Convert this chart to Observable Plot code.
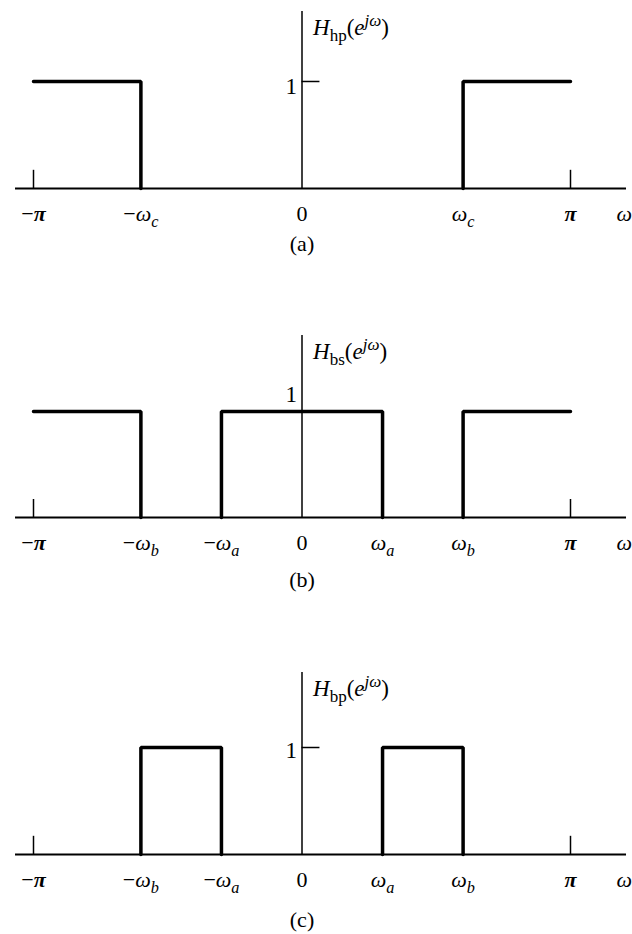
<!DOCTYPE html>
<html><head><meta charset="utf-8">
<script src="https://cdn.jsdelivr.net/npm/d3@7"></script>
<script src="https://cdn.jsdelivr.net/npm/@observablehq/plot@0.6"></script>
<style>
html,body{margin:0;padding:0;background:#fff;}
#chart{width:632px;}
#chart svg{display:block;}
</style></head><body><div id="chart"></div>
<script>
const PI = Math.PI;
// cutoff frequencies
const wc = 0.6 * PI, wa = 0.3 * PI, wb = 0.6 * PI;

// (a) high-pass response (NaN breaks the line)
const hpOmega = [-PI, -wc, -wc, NaN, wc, wc, PI];
const hpMag   = [1, 1, 0, NaN, 0, 1, 1];
// (b) band-stop response
const bsOmega = [-PI, -wb, -wb, NaN, -wa, -wa, wa, wa, NaN, wb, wb, PI];
const bsMag   = [1, 1, 0, NaN, 0, 1, 1, 0, NaN, 0, 1, 1];
// (c) band-pass response
const bpOmega = [-wb, -wb, -wa, -wa, NaN, wa, wa, wb, wb];
const bpMag   = [0, 1, 1, 0, NaN, 0, 1, 1, 0];

// tick labels (markup: *italic*, #bold#, _{sub}, ^{sup})
const ticksA  = [-PI, -wc, 0, wc, PI, 3.77];
const labelsA = ["−#*π*#", "−*ω*_{*c*}", "0", "*ω*_{*c*}", "#*π*#", "*ω*"];
const ticksBC  = [-PI, -wb, -wa, 0, wa, wb, PI, 3.77];
const labelsB = ["−#*π*#", "−*ω*_{*b*}", "−*ω*_{*a*}", "0", "*ω*_{*a*}", "*ω*_{*b*}", "#*π*#", "*ω*"];
const labelsC = labelsB;

const titles   = ["*H*_{hp}(*e*^{*jω*})", "*H*_{bs}(*e*^{*jω*})", "*H*_{bp}(*e*^{*jω*})"];
const captions = ["(a)", "(b)", "(c)"];
const axisExtent = [-3.352, 3.797];

const panels = [
  {omega: hpOmega, mag: hpMag, ticks: ticksA, labels: labelsA, height: 300, top: 11, bottom: 112, ymax: 1.654, oneTick: true, oneDy: 5, capDy: 55},
  {omega: bsOmega, mag: bsMag, ticks: ticksBC, labels: labelsB, height: 320, top: 35, bottom: 103, ymax: 1.717, oneTick: false, oneDy: -17, capDy: 62},
  {omega: bpOmega, mag: bpMag, ticks: ticksBC, labels: labelsC, height: 314, top: 52, bottom: 80, ymax: 1.701, oneTick: true, oneDy: 3, capDy: 65}
];

const SVGNS = "http://www.w3.org/2000/svg";
function rich(el, src) {
  const segs = [];
  let cur = "", italic = false, bold = false, level = 0, ci = false, cb = false, cl = 0;
  const push = () => { if (cur) segs.push({t: cur, it: ci, b: cb, lv: cl}); cur = ""; };
  for (let i = 0; i < src.length; i++) {
    const c = src[i];
    if (c === "*") { push(); italic = !italic; continue; }
    if (c === "#") { push(); bold = !bold; continue; }
    if ((c === "_" || c === "^") && src[i + 1] === "{") { push(); level = c === "_" ? -1 : 1; i++; continue; }
    if (c === "}") { push(); level = 0; continue; }
    if (cur === "") { ci = italic; cb = bold; cl = level; }
    cur += c;
  }
  push();
  el.textContent = "";
  let shift = 0;
  for (const s of segs) {
    const ts = document.createElementNS(SVGNS, "tspan");
    const target = s.lv === -1 ? 6 : s.lv === 1 ? -9 : 0;
    if (target !== shift) ts.setAttribute("dy", target - shift);
    shift = target;
    if (s.lv) ts.setAttribute("font-size", "74%");
    ts.setAttribute("font-style", s.it ? "italic" : "normal");
    if (s.b) ts.setAttribute("font-weight", "bold");
    ts.textContent = s.t;
    el.appendChild(ts);
  }
}

const chart = document.getElementById("chart");
panels.forEach((p, k) => {
  const pts = p.omega.map((x, i) => ({x, y: p.mag[i]}));
  const svg = Plot.plot({
    width: 632, height: p.height,
    marginLeft: 33, marginRight: 62, marginTop: p.top, marginBottom: p.bottom,
    x: {domain: [-PI, PI], axis: null},
    y: {domain: [0, p.ymax], axis: null},
    style: {fontFamily: "'Liberation Serif', 'DejaVu Serif', serif", background: "white", color: "black"},
    marks: [
      Plot.ruleY([0], {x1: axisExtent[0], x2: axisExtent[1], strokeWidth: 2, stroke: "black"}),
      Plot.ruleX([0], {y1: 0, y2: p.ymax, strokeWidth: 1.5, stroke: "black"}),
      Plot.ruleX([-PI, PI], {y1: 0, y2: 0.17, strokeWidth: 1.5, stroke: "black"}),
      p.oneTick ? Plot.ruleY([1], {x1: 0, x2: 0.21, strokeWidth: 1.5, stroke: "black"}) : null,
      Plot.line(pts, {x: "x", y: "y", strokeWidth: 3.5, stroke: "black", strokeLinejoin: "miter", curve: "linear"}),
      Plot.text(p.labels, {x: (d, i) => p.ticks[i], y: 0, dy: 25, text: d => d, fontSize: 22, lineAnchor: "middle"}),
      Plot.text([titles[k]], {x: 0, y: p.ymax, dx: 11, dy: 16, text: d => d, textAnchor: "start", lineAnchor: "middle", fontSize: 23}),
      Plot.text(["1"], {x: 0, y: 1, dx: -5, dy: p.oneDy, text: d => d, textAnchor: "end", lineAnchor: "middle", fontSize: 23}),
      Plot.text([captions[k]], {x: 0, y: 0, dy: p.capDy, text: d => d, lineAnchor: "middle", fontSize: 22})
    ]
  });
  svg.querySelectorAll("text").forEach(t => {
    const s = t.textContent;
    if (/[*#]|_\{|\^\{/.test(s)) rich(t, s);
  });
  chart.appendChild(svg);
});
</script>
</body></html>
